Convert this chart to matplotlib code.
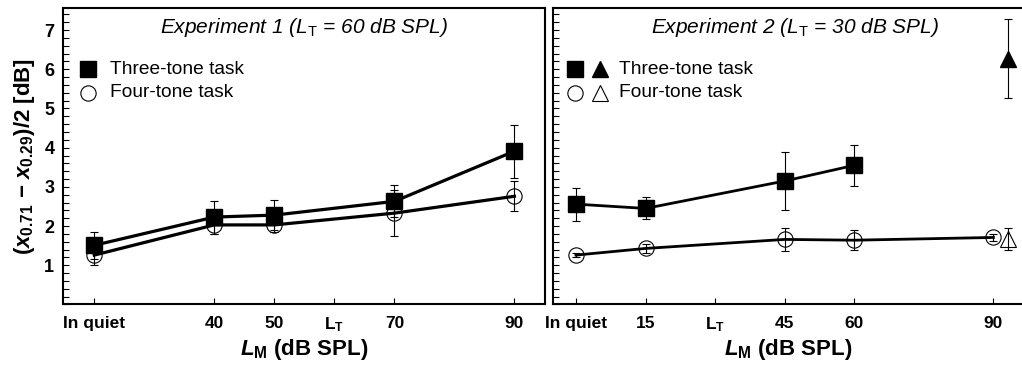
import numpy as np
import matplotlib.pyplot as plt
from matplotlib.ticker import MultipleLocator

plt.rcParams['font.family'] = 'Liberation Sans'
plt.rcParams['mathtext.fontset'] = 'custom'
plt.rcParams['mathtext.rm'] = 'Liberation Sans'
plt.rcParams['mathtext.it'] = 'Liberation Sans:italic'
plt.rcParams['mathtext.bf'] = 'Liberation Sans:bold'
plt.rcParams['mathtext.bfit'] = 'Liberation Sans:italic:bold'

# Experiment 1 (masker levels, "In quiet" drawn at 20 dB)
exp1_levels = [20, 40, 50, 70, 90]
exp1_three = [1.51, 2.23, 2.28, 2.63, 3.91]
exp1_three_err = [0.34, 0.42, 0.38, 0.41, 0.68]
exp1_four = [1.26, 2.03, 2.03, 2.33, 2.76]
exp1_four_err = [0.25, 0.23, 0.18, 0.58, 0.38]
exp1_ticks = [20, 40, 50, 60, 70, 90]
exp1_ticklabels = ['In quiet', '40', '50', r'L$_{\mathbf{T}}$', '70', '90']

# Experiment 2 ("In quiet" drawn at 0 dB)
exp2_three_levels = [0, 15, 45, 60]
exp2_three = [2.56, 2.45, 3.15, 3.55]
exp2_three_err = [0.42, 0.28, 0.75, 0.53]
exp2_four_levels = [0, 15, 45, 60, 90]
exp2_four = [1.26, 1.43, 1.66, 1.64, 1.71]
exp2_four_err = [0.06, 0.12, 0.30, 0.26, 0.10]
exp2_tri_level = [93.2]
exp2_tri_three = [6.27]
exp2_tri_three_err = [1.01]
exp2_tri_four = [1.67]
exp2_tri_four_err = [0.29]
exp2_ticks = [0, 15, 30, 45, 60, 90]
exp2_ticklabels = ['In quiet', '15', r'L$_{\mathbf{T}}$', '45', '60', '90']

fig = plt.figure(figsize=(10.22, 3.69), dpi=100)
ax1 = fig.add_axes([0.0613, 0.1748, 0.4720, 0.8022])
ax2 = fig.add_axes([0.5408, 0.1748, 0.4612, 0.8022])

ebkw = dict(fmt='none', ecolor='black', elinewidth=0.8, capsize=3, capthick=0.8, zorder=4)

# left panel
ax1.plot(exp1_levels, exp1_four, color='black', lw=2.3, zorder=2)
ax1.plot(exp1_levels, exp1_four, 'o', ms=11, mfc='none', mec='black', mew=0.8, zorder=3)
ax1.errorbar(exp1_levels, exp1_four, yerr=exp1_four_err, **ebkw)
ax1.plot(exp1_levels, exp1_three, color='black', lw=2.3, zorder=5)
ax1.plot(exp1_levels, exp1_three, 's', ms=11, color='black', zorder=6)
ax1.errorbar(exp1_levels, exp1_three, yerr=exp1_three_err, **ebkw)

# right panel
ax2.plot(exp2_four_levels, exp2_four, color='black', lw=2.0, zorder=2)
ax2.plot(exp2_four_levels, exp2_four, 'o', ms=11, mfc='none', mec='black', mew=0.8, zorder=3)
ax2.errorbar(exp2_four_levels, exp2_four, yerr=exp2_four_err, **ebkw)
ax2.plot(exp2_three_levels, exp2_three, color='black', lw=2.0, zorder=5)
ax2.plot(exp2_three_levels, exp2_three, 's', ms=11, color='black', zorder=6)
ax2.errorbar(exp2_three_levels, exp2_three, yerr=exp2_three_err, **ebkw)
ax2.plot(exp2_tri_level, exp2_tri_three, '^', ms=12, color='black', zorder=6)
ax2.errorbar(exp2_tri_level, exp2_tri_three, yerr=exp2_tri_three_err, **ebkw)
ax2.plot(exp2_tri_level, exp2_tri_four, '^', ms=12, mfc='none', mec='black', mew=0.8, zorder=3)
ax2.errorbar(exp2_tri_level, exp2_tri_four, yerr=exp2_tri_four_err, **ebkw)

ax1.set_xlim(14.73, 95.1)
ax2.set_xlim(-5.02, 96.6)

for ax, ticks, labels in [(ax1, exp1_ticks, exp1_ticklabels), (ax2, exp2_ticks, exp2_ticklabels)]:
    ax.set_ylim(0, 7.55)
    ax.set_xticks(ticks)
    ax.set_xticklabels(labels, fontsize=12.5, fontweight='bold')
    ax.yaxis.set_major_locator(MultipleLocator(1))
    ax.yaxis.set_minor_locator(MultipleLocator(0.2))
    ax.tick_params(axis='both', which='both', direction='in', length=4, width=0.8,
                   top=False, right=False)
    ax.tick_params(axis='x', pad=8)
    for spine in ax.spines.values():
        spine.set_linewidth(1.5)
    ax.set_xlabel(r'$\mathbfit{L}_{\mathbf{M}}$ (dB SPL)', fontsize=16, fontweight='bold', labelpad=2)

ax1.set_yticks(range(1, 8))
ax1.set_yticklabels([str(v) for v in range(1, 8)], fontsize=13, fontweight='bold')
ax1.tick_params(axis='y', pad=6)
ax2.set_yticklabels([])
ax1.set_ylabel(r'($\mathbfit{x}_{\mathbf{0.71}}$ − $\mathbfit{x}_{\mathbf{0.29}}$)/2 [dB]',
               fontsize=16, fontweight='bold', labelpad=5)

ax1.text(0.5, 0.937, r'Experiment 1 ($L_{\mathrm{T}}$ = 60 dB SPL)', transform=ax1.transAxes,
         ha='center', va='center', fontsize=15, style='italic')
ax2.text(0.514, 0.937, r'Experiment 2 ($L_{\mathrm{T}}$ = 30 dB SPL)', transform=ax2.transAxes,
         ha='center', va='center', fontsize=15, style='italic')

# legends drawn by hand
ax1.plot([0.053], [0.795], 's', ms=11, color='black', transform=ax1.transAxes)
ax1.plot([0.053], [0.715], 'o', ms=11, mfc='none', mec='black', mew=0.8, transform=ax1.transAxes)
ax1.text(0.098, 0.795, 'Three-tone task', transform=ax1.transAxes, va='center', fontsize=13.8)
ax1.text(0.098, 0.715, 'Four-tone task', transform=ax1.transAxes, va='center', fontsize=13.8)

ax2.plot([0.048], [0.795], 's', ms=11, color='black', transform=ax2.transAxes)
ax2.plot([0.101], [0.795], '^', ms=12, color='black', transform=ax2.transAxes)
ax2.plot([0.048], [0.715], 'o', ms=11, mfc='none', mec='black', mew=0.8, transform=ax2.transAxes)
ax2.plot([0.101], [0.715], '^', ms=12, mfc='none', mec='black', mew=0.8, transform=ax2.transAxes)
ax2.text(0.14, 0.795, 'Three-tone task', transform=ax2.transAxes, va='center', fontsize=13.8)
ax2.text(0.14, 0.715, 'Four-tone task', transform=ax2.transAxes, va='center', fontsize=13.8)

fig.savefig('out.png', dpi=100)
